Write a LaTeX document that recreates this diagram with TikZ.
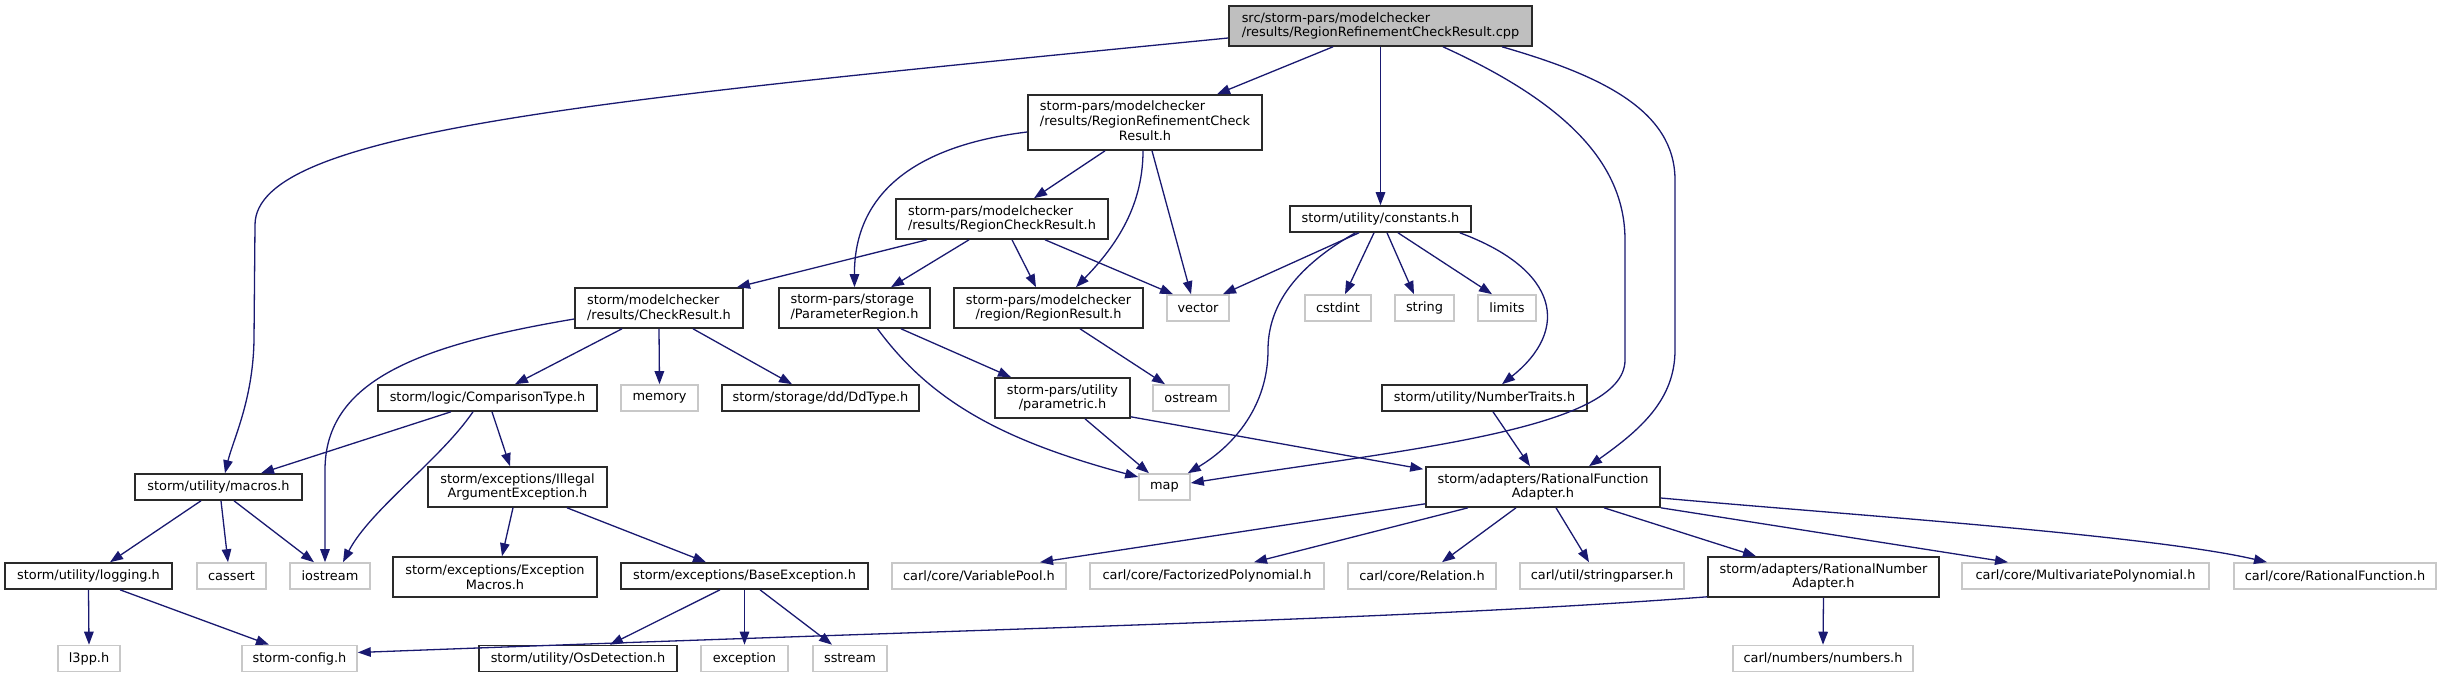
\documentclass[tikz,border=0pt]{standalone}
\usepackage{fontspec}
\usetikzlibrary{arrows.meta,calc}
\newfontfamily\labfamily{DejaVu Sans}
\newcommand\labf{\labfamily\fontsize{12.9}{14.8}\selectfont}
\definecolor{mblue}{HTML}{191970}
\definecolor{rootfill}{HTML}{BFBFBF}
\definecolor{extgray}{HTML}{C8C8C8}
\definecolor{docgray}{HTML}{2A2A2A}
\tikzset{
  dbox/.style={draw=docgray, line width=1.6pt, inner sep=0pt, font=\labf, fill=white, text=black},
  ebox/.style={draw=extgray, line width=1.6pt, inner sep=0pt, font=\labf, fill=white, text=black},
  sz/.style n args={2}{minimum width=#1pt, minimum height=#2pt},
  edge/.style={draw=mblue, line width=1.3pt, -{Triangle[length=13pt,width=9.5pt]}},
}
\begin{document}
\begin{tikzpicture}[x=1pt,y=-1pt]
\useasboundingbox (0,0) rectangle (2442,677);
% nodes
\node[dbox, fill=rootfill, sz={303}{40}, align=left] (root) at (1380.5,26) {src/storm-pars/modelchecker\\/results/RegionRefinementCheckResult.cpp};
\node[dbox, sz={234}{55}] (rrcr) at (1145,122.5) {\begin{tabular}{@{}l@{}}storm-pars/modelchecker\\/results/RegionRefinementCheck\\\multicolumn{1}{@{}c@{}}{Result.h}\end{tabular}};
\node[dbox, sz={181}{26}] (constants) at (1380.5,219) {storm/utility/constants.h};
\node[dbox, sz={212}{40}, align=left] (rcr) at (1002,219) {storm-pars/modelchecker\\/results/RegionCheckResult.h};
\node[dbox, sz={168}{40}, align=left] (checkres) at (659,308) {storm/modelchecker\\/results/CheckResult.h};
\node[dbox, sz={151}{40}, align=left] (paramreg) at (854.5,308) {storm-pars/storage\\/ParameterRegion.h};
\node[dbox, sz={189}{40}, align=center] (regionres) at (1048.5,308) {storm-pars/modelchecker\\/region/RegionResult.h};
\node[ebox, sz={62}{26}] (vector) at (1198,308) {vector};
\node[ebox, sz={66}{26}] (cstdint) at (1338,308) {cstdint};
\node[ebox, sz={59}{26}] (string) at (1424.5,308) {string};
\node[ebox, sz={58}{26}] (limits) at (1507,308) {limits};
\node[dbox, sz={219}{26}] (comp) at (487.5,398) {storm/logic/ComparisonType.h};
\node[ebox, sz={77}{26}] (memory) at (659.5,398) {memory};
\node[dbox, sz={197}{26}] (ddtype) at (820.5,398) {storm/storage/dd/DdType.h};
\node[dbox, sz={135}{40}, align=center] (parametric) at (1062.5,398) {storm-pars/utility\\/parametric.h};
\node[ebox, sz={76}{26}] (ostream) at (1191,398) {ostream};
\node[dbox, sz={205}{26}] (numtraits) at (1484.5,398) {storm/utility/NumberTraits.h};
\node[dbox, sz={167}{26}] (macros) at (218.5,487) {storm/utility/macros.h};
\node[dbox, sz={179}{40}, align=center] (illegal) at (517.5,487) {storm/exceptions/Illegal\\ArgumentException.h};
\node[ebox, sz={51}{26}] (map) at (1164.5,487) {map};
\node[dbox, sz={234}{40}, align=center] (rfa) at (1543,487) {storm/adapters/RationalFunction\\Adapter.h};
\node[dbox, sz={167}{26}] (logging) at (88.5,576) {storm/utility/logging.h};
\node[ebox, sz={69}{26}] (cassert) at (231.5,576) {cassert};
\node[ebox, sz={80}{26}] (iostream) at (330,576) {iostream};
\node[dbox, sz={204}{40}, align=center] (excmacros) at (495,577) {storm/exceptions/Exception\\Macros.h};
\node[dbox, sz={247}{26}] (base) at (744.5,576) {storm/exceptions/BaseException.h};
\node[ebox, sz={174}{26}] (varpool) at (979,576) {carl/core/VariablePool.h};
\node[ebox, sz={234}{26}] (factpoly) at (1207,576) {carl/core/FactorizedPolynomial.h};
\node[ebox, sz={148}{26}] (relation) at (1422,576) {carl/core/Relation.h};
\node[ebox, sz={164}{26}] (strparser) at (1602,576) {carl/util/stringparser.h};
\node[dbox, sz={231}{40}, align=center] (rna) at (1823.5,577) {storm/adapters/RationalNumber\\Adapter.h};
\node[ebox, sz={247}{26}] (mvpoly) at (2085.5,576) {carl/core/MultivariatePolynomial.h};
\node[ebox, sz={202}{26}] (ratfunc) at (2335,576) {carl/core/RationalFunction.h};
\node[ebox, sz={62}{26}] (l3pp) at (89,658.5) {l3pp.h};
\node[ebox, sz={115}{26}] (stormconfig) at (299.5,658.5) {storm-config.h};
\node[dbox, sz={198}{26}] (osdet) at (578,658.5) {storm/utility/OsDetection.h};
\node[ebox, sz={87}{26}] (exception) at (744.5,658.5) {exception};
\node[ebox, sz={74}{26}] (sstream) at (850,658.5) {sstream};
\node[ebox, sz={180}{26}] (numbers) at (1823,658.5) {carl/numbers/numbers.h};
% edges from root
\draw[edge] ($(root.west)+(0,12)$) .. controls (600,100) and (255,130) .. (255,225) -- (254,340) .. controls (253,400) and (233,440) .. ($(macros.north)+(6.5,0)$);
\draw[edge] ($(root.south)+(-47.5,0)$) -- ($(rrcr.north)+(72,0)$);
\draw[edge] (root.south) -- (constants.north);
\draw[edge] ($(root.south)+(62.5,0)$) .. controls (1560,100) and (1625,160) .. (1625,240) -- (1625,360) .. controls (1625,430) and (1400,450) .. ($(map.east)+(0,-4)$);
\draw[edge] ($(root.south)+(121.5,0)$) .. controls (1600,75) and (1675,110) .. (1675,180) -- (1675,350) .. controls (1675,400) and (1640,430) .. ($(rfa.north)+(46,0)$);
% rrcr
\draw[edge] ($(rrcr.west)+(0,9.5)$) .. controls (920,145) and (854,190) .. (paramreg.north);
\draw[edge] ($(rrcr.south)+(-40,0)$) -- ($(rcr.north)+(32,0)$);
\draw[edge] ($(rrcr.south)+(-2,0)$) .. controls (1143,210) and (1112,250) .. ($(regionres.north)+(27.5,0)$);
\draw[edge] ($(rrcr.south)+(7,0)$) -- ($(vector.north)+(-7,0)$);
% rcr
\draw[edge] ($(rcr.south)+(-75,0)$) -- ($(checkres.north)+(78,0)$);
\draw[edge] ($(rcr.south)+(-33,0)$) -- ($(paramreg.north)+(36.5,0)$);
\draw[edge] ($(rcr.south)+(10,0)$) -- ($(regionres.north)+(-12.5,0)$);
\draw[edge] ($(rcr.south)+(43,0)$) -- ($(vector.north)+(-25,0)$);
% constants
\draw[edge] ($(constants.south)+(-21.5,0)$) -- ($(vector.north)+(25,0)$);
\draw[edge] ($(constants.south)+(-25,0)$) .. controls (1290,270) and (1268,310) .. (1268,350) .. controls (1268,405) and (1235,445) .. ($(map.north east)+(-3,0)$);
\draw[edge] ($(constants.south)+(-6.5,0)$) -- ($(cstdint.north)+(7,0)$);
\draw[edge] ($(constants.south)+(6.5,0)$) -- ($(string.north)+(-10.5,0)$);
\draw[edge] ($(constants.south)+(17.5,0)$) -- ($(limits.north)+(-15,0)$);
\draw[edge] ($(constants.south east)+(-12,0)$) .. controls (1560,270) and (1570,330) .. ($(numtraits.north)+(17.5,0)$);
% checkres
\draw[edge] ($(checkres.west)+(0,11)$) .. controls (420,345) and (325,380) .. (325,470) -- ($(iostream.north)+(-5,0)$);
\draw[edge] ($(checkres.south)+(-37,0)$) -- ($(comp.north)+(27.5,0)$);
\draw[edge] (checkres.south) -- (memory.north);
\draw[edge] ($(checkres.south)+(34,0)$) -- ($(ddtype.north)+(-28.5,0)$);
% paramreg
\draw[edge] ($(paramreg.south)+(23,0)$) .. controls (930,400) and (1000,440) .. ($(map.west)+(0,-10)$);
\draw[edge] ($(paramreg.south)+(46.5,0)$) -- ($(parametric.north)+(-51.5,0)$);
% regionres
\draw[edge] ($(regionres.south)+(31.5,0)$) -- ($(ostream.north)+(-26,0)$);
% comparison type
\draw[edge] ($(comp.south)+(-36.5,0)$) -- ($(macros.north)+(42.5,0)$);
\draw[edge] ($(comp.south)+(-14.5,0)$) .. controls (440,460) and (370,510) .. ($(iostream.north)+(13,0)$);
\draw[edge] ($(comp.south)+(4.5,0)$) -- ($(illegal.north)+(-7.5,0)$);
% parametric
\draw[edge] ($(parametric.south)+(22.5,0)$) -- ($(map.north)+(-15.5,0)$);
\draw[edge] ($(parametric.south east)+(0,-2)$) -- ($(rfa.north west)+(-2,3)$);
% number traits
\draw[edge] ($(numtraits.south)+(8.5,0)$) -- ($(rfa.north)+(-13,0)$);
% macros
\draw[edge] ($(macros.south)+(-17.5,0)$) -- ($(logging.north)+(21.5,0)$);
\draw[edge] ($(macros.south)+(2.5,0)$) -- ($(cassert.north)+(-3.5,0)$);
\draw[edge] ($(macros.south)+(15.5,0)$) -- ($(iostream.north)+(-16,0)$);
% illegal argument
\draw[edge] ($(illegal.south)+(-4.5,0)$) -- ($(excmacros.north)+(7,0)$);
\draw[edge] ($(illegal.south)+(49.5,0)$) -- ($(base.north)+(-38.5,0)$);
% rational function adapter
\draw[edge] ($(rfa.south west)+(0,-4)$) -- ($(varpool.north)+(61,0)$);
\draw[edge] ($(rfa.south)+(-75,0)$) -- ($(factpoly.north)+(47,0)$);
\draw[edge] ($(rfa.south)+(-27,0)$) -- ($(relation.north)+(20,0)$);
\draw[edge] ($(rfa.south)+(13,0)$) -- ($(strparser.north)+(-13,0)$);
\draw[edge] ($(rfa.south)+(61,0)$) -- ($(rna.north)+(-67.5,0)$);
\draw[edge] (rfa.south east) -- ($(mvpoly.north)+(-77.5,0)$);
\draw[edge] ($(rfa.east)+(0,11)$) .. controls (1850,515) and (2150,535) .. ($(ratfunc.north)+(-68,0)$);
% logging
\draw[edge] (logging.south) -- (l3pp.north);
\draw[edge] ($(logging.south)+(31.5,0)$) -- ($(stormconfig.north)+(-30.5,0)$);
% base exception
\draw[edge] ($(base.south)+(-24.5,0)$) -- ($(osdet.north)+(32,0)$);
\draw[edge] (base.south) -- (exception.north);
\draw[edge] ($(base.south)+(15.5,0)$) -- ($(sstream.north)+(-18,0)$);
% rational number adapter
\draw[edge] ($(rna.south west)+(0,-1)$) .. controls (1400,620) and (1000,628) .. ($(stormconfig.east)+(0,-6)$);
\draw[edge] (rna.south) -- (numbers.north);
\end{tikzpicture}
\end{document}
